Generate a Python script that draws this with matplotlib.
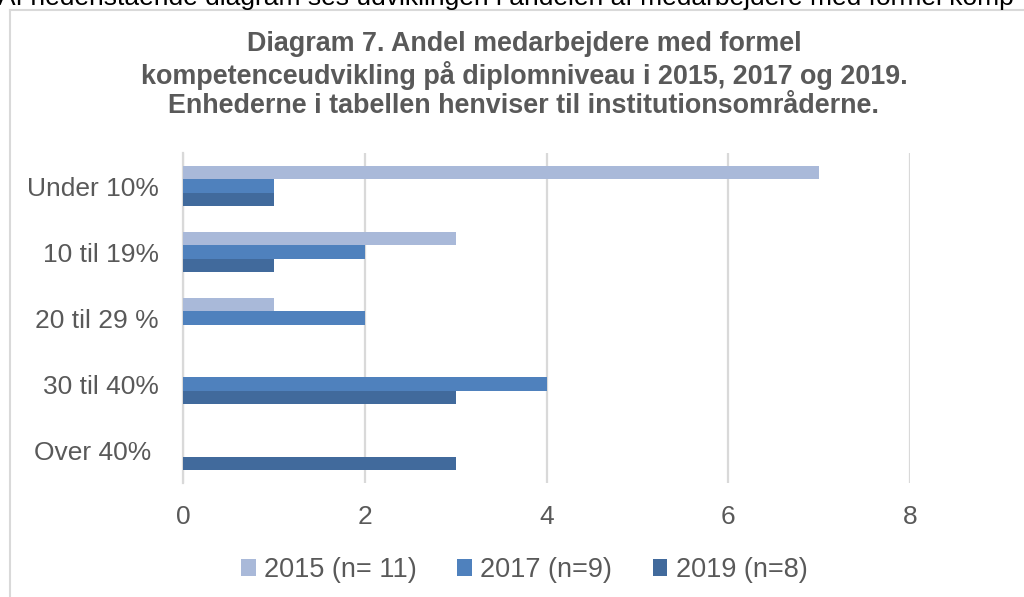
import matplotlib
matplotlib.use("Agg")
import matplotlib.pyplot as plt
from matplotlib.lines import Line2D
import numpy as np

plt.rcParams['font.family'] = ['Liberation Sans', 'DejaVu Sans']

# data
categories = ['Under 10%', '10 til 19%', '20 til 29 %', '30 til 40%', 'Over 40% ']
series_names = ['2015 (n= 11)', '2017 (n=9)', '2019 (n=8)']
v2015 = [7, 3, 1, 0, 0]
v2017 = [1, 2, 2, 4, 0]
v2019 = [1, 1, 0, 3, 3]
colors = ['#A9B9D9', '#4F81BD', '#416A9C']

title = ('Diagram 7. Andel medarbejdere med formel\n'
         'kompetenceudvikling på diplomniveau i 2015, 2017 og 2019.\n'
         'Enhederne i tabellen henviser til institutionsområderne.')
top_line = 'Af nedenstående diagram ses udviklingen i andelen af medarbejdere med formel komp'

txt = '#595959'
grid = '#D9D9D9'

fig = plt.figure(figsize=(10.24, 5.97), dpi=100)
ax = fig.add_axes([183 / 1024, 1 - 483 / 597, (910 - 183) / 1024, (483 - 153) / 597])

y = np.arange(len(categories))
h = 0.2
for i, (vals, name, c) in enumerate(zip([v2015, v2017, v2019], series_names, colors)):
    ax.barh(y + (i - 1) * h, vals, height=h, color=c, label=name,
            linewidth=0, zorder=3)

ax.set_xlim(0, 8)
ax.set_ylim(len(categories) - 0.5, -0.5)
ax.set_xticks([0, 2, 4, 6, 8])
ax.set_yticks(y)
ax.set_yticklabels(categories)
ax.tick_params(axis='both', length=0, colors=txt, labelsize=19)
ax.tick_params(axis='x', pad=16)
ax.tick_params(axis='y', pad=17.5)
ax.grid(axis='x', color=grid, linewidth=1.6, zorder=0)
for s in ['top', 'right', 'bottom']:
    ax.spines[s].set_visible(False)
ax.spines['left'].set_color(grid)
ax.spines['left'].set_linewidth(1.6)

ax.legend(loc='center', bbox_to_anchor=(524 / 1024, 1 - 570 / 597),
          bbox_transform=fig.transFigure, ncol=3, frameon=False,
          fontsize=19.5, labelcolor=txt, handlelength=0.55, handleheight=0.55,
          handletextpad=0.3, columnspacing=1.5)

fig.text(524 / 1024, 1 - 75 / 597, title, ha='center', va='center',
         fontsize=19.4, fontweight='bold', color=txt, linespacing=1.16)

fig.text(-0.002, 1 - 5 / 597, top_line, ha='left', va='baseline',
         fontsize=19, color='black')

# chart border (only left and top edges fall inside the picture)
bx, by = 9.5 / 1024, 1 - 9.5 / 597
fig.add_artist(Line2D([bx, bx], [0, by], transform=fig.transFigure,
                      color=grid, linewidth=1.5))
fig.add_artist(Line2D([bx, 1], [by, by], transform=fig.transFigure,
                      color=grid, linewidth=1.5))

fig.savefig('out.png', dpi=100)
